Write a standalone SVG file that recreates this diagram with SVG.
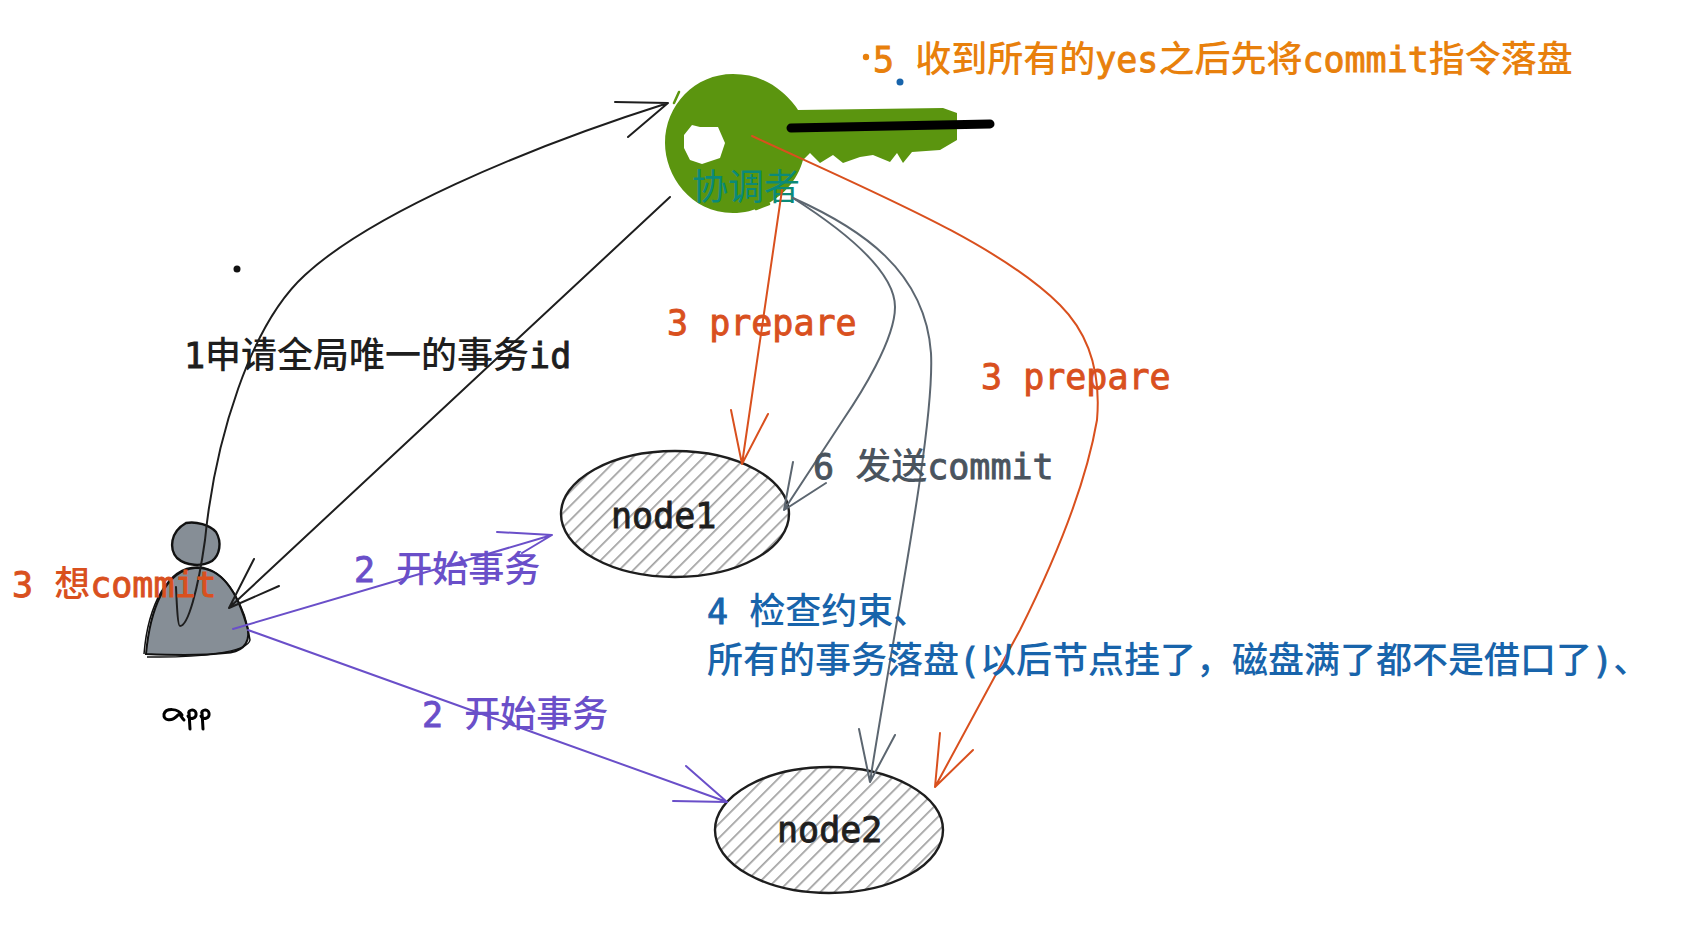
<svg xmlns="http://www.w3.org/2000/svg" width="1708" height="948" viewBox="0 0 1708 948">
<style>
text{font-family:"Noto Sans CJK SC",sans-serif;font-size:36px;font-weight:500;white-space:pre}
tspan.l{font-family:"DejaVu Sans Mono",monospace;font-size:35px;font-weight:400;stroke:currentColor;stroke-width:.9}
.c{fill:none;stroke-linecap:round;stroke-linejoin:round;stroke-width:2}
.k{stroke:#1e1e1e}.o{stroke:#d9501e}.g{stroke:#5c6670}.p{stroke:#6a4fc9}
.tk{fill:#1e1e1e;color:#1e1e1e}.to{fill:#d9501e;color:#d9501e}.tg{fill:#4a545e;color:#4a545e}.tp{fill:#6a4fc9;color:#6a4fc9}.tb{fill:#1864ab;color:#1864ab}.ty{fill:#e8800c;color:#e8800c}
</style>
<defs>
<pattern id="h" width="10" height="10" patternUnits="userSpaceOnUse" patternTransform="rotate(-45)"><rect width="10" height="1.7" fill="#a0a0a0"/></pattern>
</defs>
<g id="coordinator">
<path fill="#5b950f" d="M733 74C752 74 768 80 782 92C790 99 795 105 798 110L943 108L957 113V140L940 150L912 152L903 163L897 153L890 162L873 155L860 157L843 163L833 155L820 163L810 153L803 160C795 190 765 213 733 213C690 213 665 175 665 143C665 105 695 74 733 74Z"/>
<path fill="#fff" d="M684 135L692 125L700 127L718 127L725 143L720 158L702 164L690 160L684 148Z"/>
<path fill="none" stroke="#5b950f" stroke-width="2.5" stroke-linecap="round" d="M674 103L679 92M756 209L769 204"/>
<path fill="none" stroke="#000" stroke-width="9" stroke-linecap="round" d="M791 128L990 124"/>
<text x="692" y="200" style="fill:#0b8a78;font-weight:400">协调者</text>
</g>
<g id="node1">
<ellipse cx="675" cy="514" rx="114" ry="63" fill="url(#h)" stroke="#1e1e1e" stroke-width="2.4"/>
<text x="611" y="528" class="tk"><tspan class="l">node1</tspan></text>
</g>
<g id="node2">
<ellipse cx="829" cy="830" rx="114" ry="63" fill="url(#h)" stroke="#1e1e1e" stroke-width="2.4"/>
<text x="777" y="842" class="tk"><tspan class="l">node2</tspan></text>
</g>
<g id="app">
<path fill="#868e96" stroke="#111" stroke-width="2" d="M146 654C150 610 165 570 195 568C225 566 240 600 248 630C250 646 240 652 225 653C200 656 170 655 146 654Z"/>
<path fill="none" stroke="#111" stroke-width="1.5" d="M144 654C148 605 168 566 198 567C228 568 246 610 250 640C248 652 200 658 147 657"/>
<path fill="#868e96" stroke="#111" stroke-width="2.4" d="M186 523C196 521 210 525 216 532C222 542 220 555 212 561C202 567 186 566 177 558C169 549 170 532 186 523Z"/>
<path fill="none" stroke="#000" stroke-width="3" stroke-linecap="round" stroke-linejoin="round" d="M182 715C178 708 166 708 164 714C163 721 172 722 178 715C180 713 181 717 184 720M189 714C187 710 195 708 196 713C197 719 190 720 188 716M189 712L190 729M202 714C200 710 208 708 209 713C210 719 203 720 201 716M202 712L203 729"/>
</g>
<g id="connectors">
<path class="c k" d="M176 587C177 610 178 626 180 626C188 626 198 590 205 540C215 440 250 325 305 275C370 215 520 150 668 103M615 102L668 103L628 137"/>
<path class="c k" d="M670 197L230 607M254 559L229 608L279 586"/>
<path class="c p" d="M233 629L552 535M497 532L552 535L522 553"/>
<path class="c p" d="M248 630L727 802M686 766L727 802L673 801"/>
<path class="c o" d="M782 190L742 464M731 410L742 464L768 414"/>
<path class="c o" d="M752 136C880 195 1000 245 1060 305C1095 340 1100 385 1097 420C1085 490 1050 570 1020 630L935 787M940 733L935 787L973 750"/>
<path class="c g" d="M793 198C840 228 895 270 895 307C895 340 860 395 843 420L784 510M793 462L784 510L826 483"/>
<path class="c g" d="M793 198C860 228 925 270 931 353C935 430 890 650 870 782M859 729L870 782L895 735"/>
</g>
<g id="labels">
<circle cx="237" cy="269" r="3.5" fill="#111"/>
<circle cx="900" cy="82" r="3.5" fill="#1864ab"/>
<circle cx="866" cy="57" r="3.2" fill="#e8800c"/>
<text x="873" y="72" class="ty"><tspan class="l">5 </tspan>收到所有的<tspan class="l">yes</tspan>之后先将<tspan class="l">commit</tspan>指令落盘</text>
<text x="184" y="368" class="tk"><tspan class="l">1</tspan>申请全局唯一的事务<tspan class="l">id</tspan></text>
<text x="667" y="335" class="to"><tspan class="l">3 prepare</tspan></text>
<text x="981" y="389" class="to"><tspan class="l">3 prepare</tspan></text>
<text x="813" y="479" class="tg"><tspan class="l">6 </tspan>发送<tspan class="l">commit</tspan></text>
<text x="12" y="597" class="to"><tspan class="l">3 </tspan>想<tspan class="l">commit</tspan></text>
<text x="354" y="582" class="tp"><tspan class="l">2 </tspan>开始事务</text>
<text x="422" y="727" class="tp"><tspan class="l">2 </tspan>开始事务</text>
<text x="707" y="624" class="tb"><tspan class="l">4 </tspan>检查约束、<tspan x="707" dy="49">所有的事务落盘</tspan><tspan class="l">(</tspan>以后节点挂了，磁盘满了都不是借口了<tspan class="l">)</tspan>、</text>
</g>
</svg>
